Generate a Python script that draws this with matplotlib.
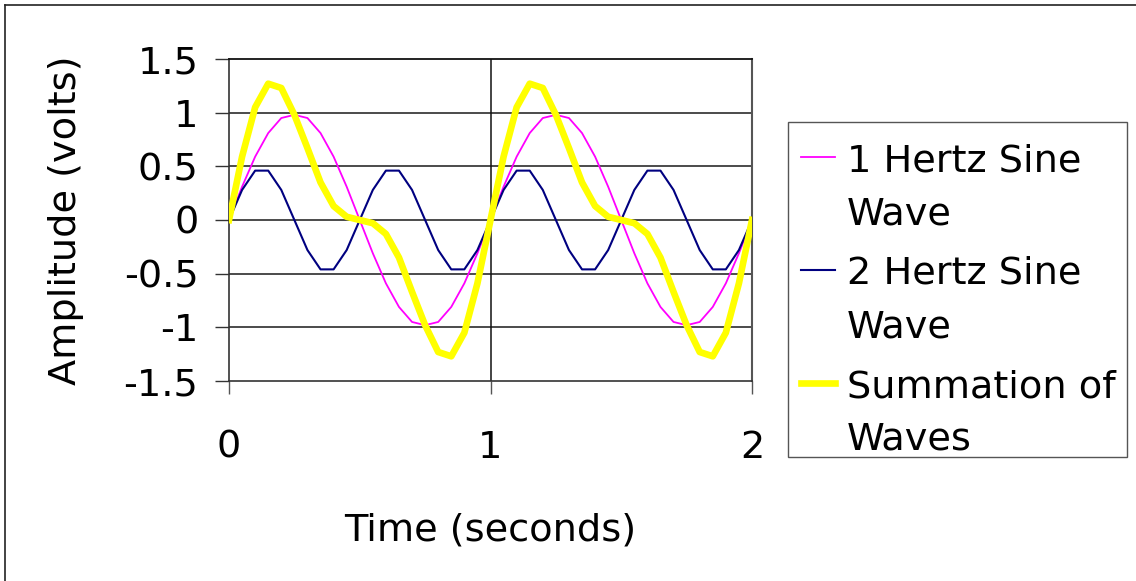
import matplotlib
matplotlib.use("Agg")
import matplotlib.pyplot as plt
from matplotlib.lines import Line2D
from matplotlib.patches import Rectangle

plt.rcParams['font.family'] = ['DejaVu Sans']
plt.rcParams['axes.unicode_minus'] = False

# Time samples (seconds)
time_s = [0.00, 0.05, 0.10, 0.15, 0.20, 0.25, 0.30, 0.35, 0.40, 0.45,
          0.50, 0.55, 0.60, 0.65, 0.70, 0.75, 0.80, 0.85, 0.90, 0.95,
          1.00, 1.05, 1.10, 1.15, 1.20, 1.25, 1.30, 1.35, 1.40, 1.45,
          1.50, 1.55, 1.60, 1.65, 1.70, 1.75, 1.80, 1.85, 1.90, 1.95, 2.00]

wave_1hz = [0.00, 0.31, 0.59, 0.81, 0.95, 0.98, 0.95, 0.81, 0.59, 0.31,
            0.00, -0.31, -0.59, -0.81, -0.95, -0.98, -0.95, -0.81, -0.59, -0.31,
            0.00, 0.31, 0.59, 0.81, 0.95, 0.98, 0.95, 0.81, 0.59, 0.31,
            0.00, -0.31, -0.59, -0.81, -0.95, -0.98, -0.95, -0.81, -0.59, -0.31, 0.00]

wave_2hz = [0.00, 0.28, 0.46, 0.46, 0.28, 0.00, -0.28, -0.46, -0.46, -0.28,
            0.00, 0.28, 0.46, 0.46, 0.28, 0.00, -0.28, -0.46, -0.46, -0.28,
            0.00, 0.28, 0.46, 0.46, 0.28, 0.00, -0.28, -0.46, -0.46, -0.28,
            0.00, 0.28, 0.46, 0.46, 0.28, 0.00, -0.28, -0.46, -0.46, -0.28, 0.00]

wave_sum = [0.00, 0.59, 1.05, 1.27, 1.23, 0.98, 0.67, 0.35, 0.13, 0.03,
            0.00, -0.03, -0.13, -0.35, -0.67, -0.98, -1.23, -1.27, -1.05, -0.59,
            0.00, 0.59, 1.05, 1.27, 1.23, 0.98, 0.67, 0.35, 0.13, 0.03,
            0.00, -0.03, -0.13, -0.35, -0.67, -0.98, -1.23, -1.27, -1.05, -0.59, 0.00]

y_ticks = [-1.5, -1, -0.5, 0, 0.5, 1, 1.5]
y_tick_labels = ["-1.5", "-1", "-0.5", "0", "0.5", "1", "1.5"]
x_ticks = [0, 1, 2]
x_tick_labels = ["0", "1", "2"]
labels = ["1 Hertz Sine\nWave", "2 Hertz Sine\nWave", "Summation of\nWaves"]
colors = ["#FF00FF", "#000080", "#FFFF00"]

FS = 27.5
W, H = 1136, 581
fig = plt.figure(figsize=(W / 100, H / 100), dpi=100)
ax = fig.add_axes([229 / W, 1 - 381 / H, (752 - 229) / W, (381 - 59) / H])

ax.plot(time_s, wave_1hz, color=colors[0], lw=1.3, zorder=3)
ax.plot(time_s, wave_2hz, color=colors[1], lw=1.5, zorder=3)
ax.plot(time_s, wave_sum, color=colors[2], lw=4.8, zorder=4)

ax.set_xlim(0, 2)
ax.set_ylim(-1.5, 1.5)
ax.set_yticks(y_ticks)
ax.set_yticklabels(y_tick_labels)
ax.set_xticks(x_ticks)
ax.set_xticklabels(x_tick_labels)

for yv in [-1, -0.5, 0, 0.5, 1]:
    ax.axhline(yv, color="#1a1a1a", lw=1.1, zorder=1)
ax.axvline(1, color="#111111", lw=1.1, zorder=1)

ax.spines['top'].set_color('#111111')
ax.spines['top'].set_linewidth(1.3)
ax.spines['bottom'].set_color('#333333')
ax.spines['bottom'].set_linewidth(1.2)
ax.spines['left'].set_color('#333333')
ax.spines['left'].set_linewidth(1.2)
ax.spines['right'].set_color('#555555')
ax.spines['right'].set_linewidth(1.5)

ax.tick_params(axis='y', direction='out', length=10, width=1.0,
               color='#333333', labelsize=FS, pad=12)
ax.tick_params(axis='x', direction='out', length=9, width=1.0,
               color='#555555', labelsize=FS, pad=26)

ax.set_xlabel("Time (seconds)", fontsize=FS)
ax.set_ylabel("Amplitude (volts)", fontsize=FS)
ax.xaxis.set_label_coords(0.5, (381 - 512) / 322)
ax.yaxis.set_label_coords((84 - 229) / 523, 0.5)

# Legend (drawn in figure pixel coordinates)
def fx(px):
    return px / W

def fy(py):
    return 1 - py / H

fig.add_artist(Rectangle((fx(788), fy(457)), fx(1127) - fx(788), fy(122) - fy(457),
                         transform=fig.transFigure, fill=False,
                         edgecolor='#555555', lw=1.0))
first_line_y = [157, 270, 383]
line_gap = 53
handle_w = [1.3, 1.5, 4.8]
for lab, col, py, lw in zip(labels, colors, first_line_y, handle_w):
    fig.add_artist(Line2D([fx(801), fx(835)], [fy(py), fy(py)],
                          transform=fig.transFigure, color=col, lw=lw))
    for i, part in enumerate(lab.split("\n")):
        fig.text(fx(847), fy(py + i * line_gap), part, fontsize=FS,
                 va='center_baseline', ha='left')

# Outer frame (top and left edges visible)
fig.add_artist(Line2D([fx(5), 1], [fy(5), fy(5)], transform=fig.transFigure,
                      color='#222222', lw=1.2))
fig.add_artist(Line2D([fx(5), fx(5)], [fy(5), 0], transform=fig.transFigure,
                      color='#222222', lw=1.2))

fig.savefig("out.png", dpi=100)
